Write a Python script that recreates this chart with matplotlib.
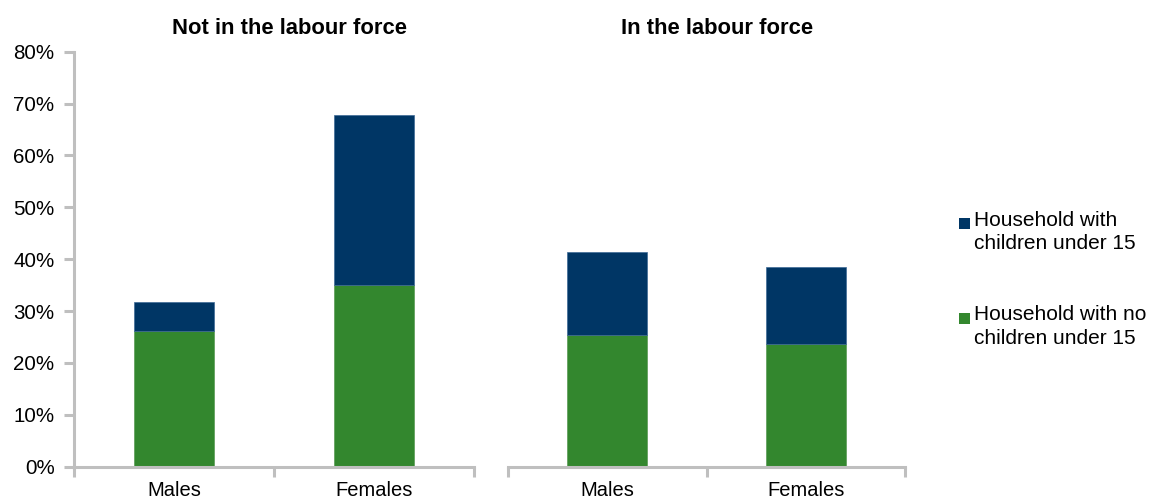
import matplotlib
matplotlib.use("Agg")
import matplotlib.pyplot as plt
from matplotlib.patches import Rectangle
from matplotlib.ticker import MultipleLocator, FuncFormatter

plt.rcParams['font.family'] = ['Liberation Sans', 'DejaVu Sans']

# Share of people (%) by labour force status, sex and household type
panels = ["Not in the labour force", "In the labour force"]
categories = ["Males", "Females"]
series = ["Household with\nchildren under 15", "Household with no\nchildren under 15"]
no_children = {
    "Not in the labour force": [26.2, 35.0],
    "In the labour force": [25.3, 23.6],
}
total = {
    "Not in the labour force": [31.8, 67.8],
    "In the labour force": [41.4, 38.5],
}

NAVY = "#003665"
GREEN = "#33872E"
AXIS_GREY = "#BFBFBF"

W, H = 1151, 500
fig = plt.figure(figsize=(W / 100, H / 100), dpi=100)

def fx(px):
    return px / W

def fy(py):
    return 1 - py / H

bottom, top = fy(466.7), fy(51.7)
axes_px = [(74, 474), (507.7, 905.3)]
title_shift = [15, 11]

for i, (name, (x0, x1)) in enumerate(zip(panels, axes_px)):
    ax = fig.add_axes([fx(x0), bottom, fx(x1 - x0), top - bottom])
    xs = list(range(len(categories)))
    base = no_children[name]
    upper = [t - b for t, b in zip(total[name], base)]
    ax.bar(xs, base, width=0.4, color=GREEN, edgecolor="#5a9a55", linewidth=0.5, zorder=2)
    ax.bar(xs, upper, width=0.4, bottom=base, color=NAVY, edgecolor="#3d6a96",
           linewidth=0.5, zorder=2)
    ax.set_xlim(-0.5, len(categories) - 0.5)
    ax.set_ylim(0, 80)

    for s in ["top", "right"]:
        ax.spines[s].set_visible(False)
    ax.spines["bottom"].set_color(AXIS_GREY)
    ax.spines["bottom"].set_linewidth(2.2)
    ax.spines["bottom"].set_zorder(3)

    # category labels at bar centres, tick marks on category boundaries
    ax.set_xticks(xs)
    ax.set_xticklabels(categories, fontsize=14.5)
    ax.tick_params(axis="x", length=0, pad=10)
    ax.set_xticks([k - 0.5 for k in range(len(categories) + 1)], minor=True)
    ax.tick_params(axis="x", which="minor", length=7, width=2.2, color=AXIS_GREY,
                   direction="out")

    if i == 0:
        ax.spines["left"].set_color(AXIS_GREY)
        ax.spines["left"].set_linewidth(2.2)
        ax.yaxis.set_major_locator(MultipleLocator(10))
        ax.yaxis.set_major_formatter(FuncFormatter(lambda v, p: f"{v:.0f}%"))
        ax.tick_params(axis="y", length=7, width=2.2, color=AXIS_GREY, labelsize=14.8,
                       pad=7)
    else:
        ax.spines["left"].set_visible(False)
        ax.set_yticks([])

    ax.set_title(name, fontsize=15.8, fontweight="bold", pad=13,
                 x=0.5 + title_shift[i] / (x1 - x0))

# legend: square swatch beside a two-line label
legend_colors = [NAVY, GREEN]
legend_tops = [212, 307]
for label, color, ytop in zip(series, legend_colors, legend_tops):
    fig.patches.append(Rectangle((fx(958.5), fy(ytop + 16.5)), fx(11), 11 / H,
                                 transform=fig.transFigure, facecolor=color,
                                 edgecolor="none"))
    fig.text(fx(974), fy(ytop - 1.5), label, fontsize=15, va="top", ha="left",
             linespacing=1.3)

fig.savefig("out.png", dpi=100)
